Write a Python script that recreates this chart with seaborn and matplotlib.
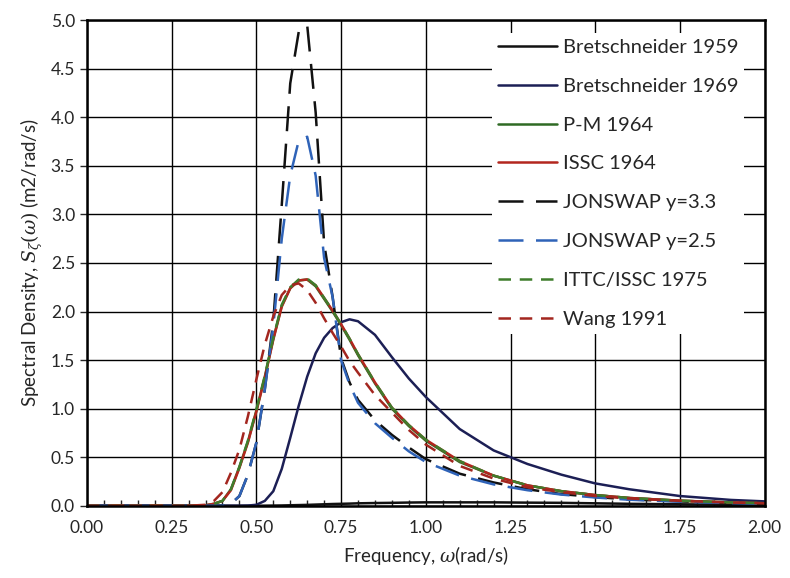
import numpy as np
import pandas as pd
import seaborn as sns
import matplotlib.pyplot as plt
from matplotlib.ticker import MultipleLocator, FormatStrFormatter

# frequency grid (rad/s) shared by all spectra
omega = [0.0, 0.1, 0.2, 0.3, 0.35, 0.375, 0.4, 0.425, 0.45, 0.475, 0.5, 0.525, 0.55, 0.575,
         0.6, 0.625, 0.65, 0.675, 0.7, 0.725, 0.75, 0.775, 0.8, 0.85, 0.9, 0.95, 1.0,
         1.1, 1.2, 1.3, 1.4, 1.5, 1.6, 1.75, 1.9, 2.0]

# spectral density values (m2/rad/s)
bret_1959 = [0, 0, 0, 0, 0, 0, 0, 0, 0, 0, 0, 0.001, 0.002, 0.003,
             0.005, 0.007, 0.009, 0.012, 0.015, 0.018, 0.02, 0.022, 0.025, 0.028, 0.03, 0.033, 0.035,
             0.035, 0.035, 0.032, 0.03, 0.025, 0.02, 0.015, 0.01, 0.01]
bret_1969 = [0, 0, 0, 0, 0, 0, 0, 0, 0, 0.002, 0.01, 0.05, 0.15, 0.38,
             0.70, 1.03, 1.33, 1.57, 1.73, 1.83, 1.89, 1.92, 1.90, 1.76, 1.53, 1.31, 1.12,
             0.79, 0.57, 0.43, 0.32, 0.23, 0.17, 0.10, 0.06, 0.045]
pm_1964 = [0, 0, 0, 0, 0.005, 0.02, 0.05, 0.17, 0.40, 0.66, 0.98, 1.33, 1.72, 2.06,
           2.24, 2.32, 2.33, 2.26, 2.13, 2.00, 1.86, 1.71, 1.55, 1.26, 1.00, 0.82, 0.67,
           0.45, 0.31, 0.21, 0.15, 0.11, 0.08, 0.052, 0.034, 0.026]
issc_1964 = [0, 0, 0, 0, 0.005, 0.02, 0.05, 0.16, 0.39, 0.65, 0.97, 1.32, 1.71, 2.05,
             2.24, 2.32, 2.33, 2.27, 2.14, 2.01, 1.87, 1.72, 1.56, 1.27, 1.01, 0.83, 0.68,
             0.46, 0.31, 0.21, 0.15, 0.11, 0.08, 0.052, 0.034, 0.026]
jonswap_33 = [0, 0, 0, 0, 0, 0, 0, 0.02, 0.10, 0.32, 0.65, 1.20, 1.90, 3.10,
              4.35, 4.88, 4.95, 4.05, 2.70, 2.15, 1.52, 1.27, 1.09, 0.88, 0.73, 0.60, 0.48,
              0.33, 0.24, 0.17, 0.12, 0.09, 0.065, 0.045, 0.03, 0.022]
jonswap_25 = [0, 0, 0, 0, 0, 0, 0, 0.02, 0.10, 0.32, 0.65, 1.20, 1.85, 2.75,
              3.40, 3.76, 3.80, 3.40, 2.55, 2.15, 1.50, 1.25, 1.06, 0.85, 0.70, 0.56, 0.45,
              0.31, 0.22, 0.16, 0.115, 0.085, 0.062, 0.042, 0.028, 0.02]
ittc_1975 = [0, 0, 0, 0, 0.005, 0.02, 0.05, 0.17, 0.40, 0.67, 0.99, 1.34, 1.73, 2.07,
             2.25, 2.33, 2.34, 2.27, 2.14, 2.01, 1.87, 1.72, 1.56, 1.27, 1.01, 0.83, 0.68,
             0.46, 0.31, 0.21, 0.15, 0.11, 0.08, 0.052, 0.034, 0.026]
wang_1991 = [0, 0, 0, 0, 0.01, 0.05, 0.14, 0.34, 0.58, 0.92, 1.30, 1.66, 1.95, 2.17,
             2.27, 2.29, 2.22, 2.09, 1.93, 1.78, 1.64, 1.49, 1.37, 1.14, 0.96, 0.78, 0.63,
             0.41, 0.28, 0.19, 0.14, 0.10, 0.075, 0.05, 0.033, 0.025]

labels = ["Bretschneider 1959", "Bretschneider 1969", "P-M 1964", "ISSC 1964",
          "JONSWAP y=3.3", "JONSWAP y=2.5", "ITTC/ISSC 1975", "Wang 1991"]
series = [bret_1959, bret_1969, pm_1964, issc_1964, jonswap_33, jonswap_25, ittc_1975, wang_1991]
colors = ["#111111", "#1c1f55", "#2f6a24", "#b3261e", "#111111", "#2f63b8", "#3f7d2c", "#a3261f"]
styles = ["-", "-", "-", "-", (0, (10, 5)), (0, (10, 5)), (0, (5, 3.5)), (0, (5, 3.5))]

sns.set_style("white")
plt.rcParams['font.family'] = ['Lato', 'DejaVu Sans']
plt.rcParams['mathtext.fontset'] = 'dejavuserif'

fig = plt.figure(figsize=(7.9, 5.78), dpi=100)
ax = fig.add_axes([0.110, 0.125, 0.858, 0.840])

for lab, vals, col, ls in zip(labels, series, colors, styles):
    df = pd.DataFrame({"omega": omega, "S": vals})
    sns.lineplot(data=df, x="omega", y="S", ax=ax, color=col, linestyle=ls,
                 linewidth=1.8, label=lab, sort=False)

ax.set_xlim(0, 2)
ax.set_ylim(0, 5)
ax.xaxis.set_major_locator(MultipleLocator(0.25))
ax.xaxis.set_minor_locator(MultipleLocator(0.05))
ax.yaxis.set_major_locator(MultipleLocator(0.5))
ax.xaxis.set_major_formatter(FormatStrFormatter('%.2f'))
ax.yaxis.set_major_formatter(FormatStrFormatter('%.1f'))
ax.grid(True, which='major', color='black', linewidth=1.0)
ax.tick_params(axis='x', which='major', length=0, labelsize=12.5, pad=10)
ax.tick_params(axis='x', which='minor', direction='in', length=4, width=1, bottom=True)
ax.tick_params(axis='y', which='major', direction='out', length=5, width=1, left=True, labelsize=12.5)
for sp in ax.spines.values():
    sp.set_color('black')
    sp.set_linewidth(1.8)

ax.set_xlabel(r"Frequency, $\omega$(rad/s)", fontsize=13.5, labelpad=6)
ax.set_ylabel(r"Spectral Density, $S_\zeta(\omega)$ (m2/rad/s)", fontsize=13.5, labelpad=4)

leg = ax.legend(loc='upper right', bbox_to_anchor=(0.985, 0.995), fontsize=14.5,
                handlelength=2.9, labelspacing=1.08, handletextpad=0.3,
                frameon=True, facecolor='white', edgecolor='white', framealpha=1.0,
                borderpad=0.3)
leg.get_frame().set_linewidth(0)

fig.savefig("out.png", dpi=100)
